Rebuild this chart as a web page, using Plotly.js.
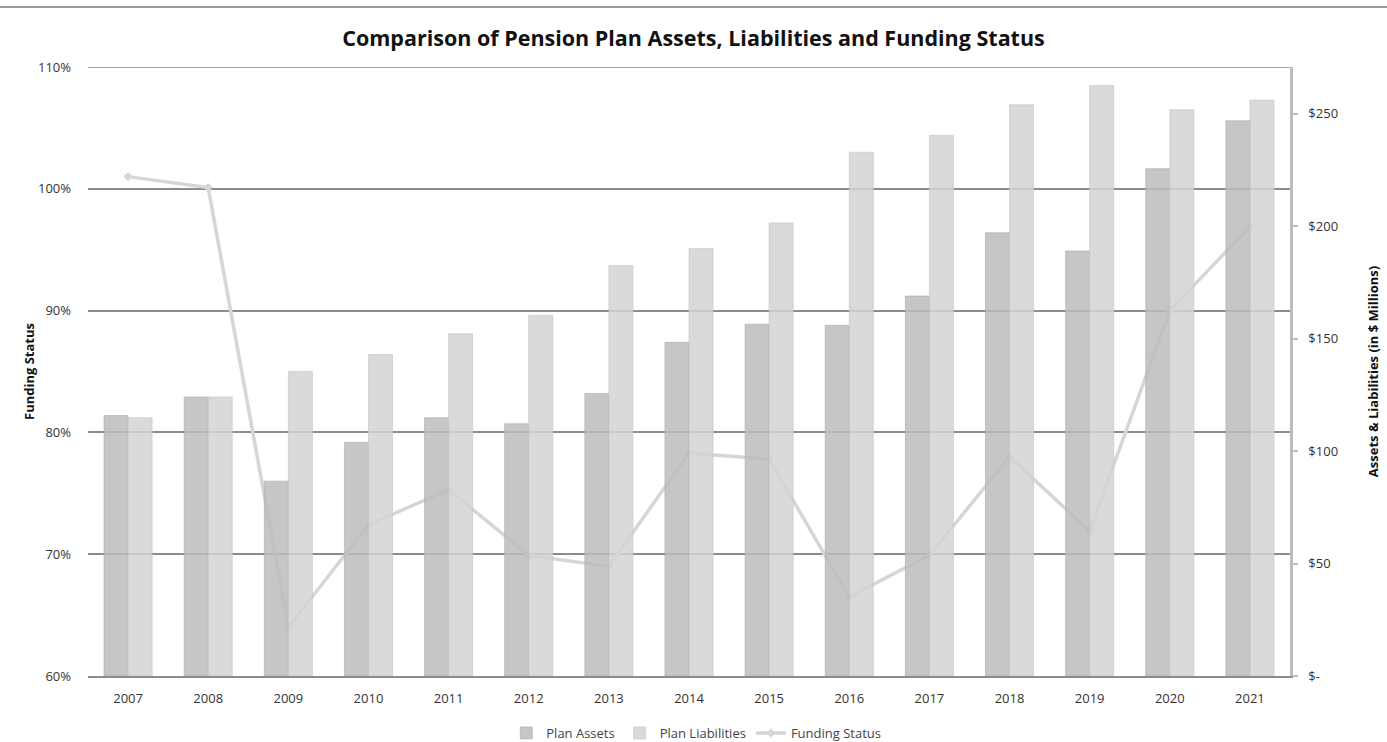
<!DOCTYPE html>
<html>
<head>
<meta charset="utf-8">
<script src="https://cdn.plot.ly/plotly-3.0.1.min.js"></script>
<style>
  html, body { margin: 0; padding: 0; background: #ffffff; }
  #chart { width: 1387px; height: 742px; }
</style>
</head>
<body>
<div id="chart"></div>
<script>
const years = ['2007','2008','2009','2010','2011','2012','2013','2014','2015','2016','2017','2018','2019','2020','2021'];
const planAssets = [115.8, 124.0, 86.6, 103.9, 114.8, 112.1, 125.6, 148.3, 156.4, 155.9, 168.9, 197.0, 188.9, 225.5, 246.8];
const planLiabilities = [114.8, 124.0, 135.3, 142.9, 152.1, 160.2, 182.4, 190.0, 201.4, 232.8, 240.3, 253.9, 262.5, 251.7, 256.0];
const fundingStatus = [101.0, 100.1, 64.0, 72.4, 75.3, 69.9, 69.0, 78.3, 77.8, 66.5, 69.9, 78.0, 71.9, 90.0, 96.9];

const pctTicks = [60, 70, 80, 90, 100, 110];
const pctLabels = ['60%', '70%', '80%', '90%', '100%', '110%'];
const dollarTicks = [0, 50, 100, 150, 200, 250];
const dollarLabels = ['$-', '$50', '$100', '$150', '$200', '$250'];

const FONT = '"Open Sans", "Noto Sans", sans-serif';

const traces = [
  {
    type: 'bar', name: 'Plan Assets', x: years, y: planAssets, yaxis: 'y2',
    marker: { color: 'rgba(188,188,188,0.85)', line: { color: 'rgba(170,170,170,0.6)', width: 1 } },
    hoverinfo: 'x+y'
  },
  {
    type: 'bar', name: 'Plan Liabilities', x: years, y: planLiabilities, yaxis: 'y2',
    marker: { color: 'rgba(211,211,211,0.85)', line: { color: 'rgba(195,195,195,0.6)', width: 1 } },
    hoverinfo: 'x+y'
  },
  {
    type: 'scatter', mode: 'lines+markers', name: 'Funding Status', x: years, y: fundingStatus, yaxis: 'y',
    line: { color: '#d6d6d6', width: 3.5 },
    marker: { color: '#d6d6d6', symbol: 'diamond', size: 7 },
    hoverinfo: 'x+y'
  }
];

const layout = {
  width: 1387, height: 742,
  paper_bgcolor: '#ffffff', plot_bgcolor: '#ffffff',
  margin: { l: 88, r: 97, t: 67, b: 66, pad: 0 },
  font: { family: FONT, color: '#333333', size: 12 },
  title: {
    text: '<b>Comparison of Pension Plan Assets, Liabilities and Funding Status</b>',
    font: { family: FONT, size: 21.5, color: '#111111' },
    xref: 'container', x: 0.5, xanchor: 'center',
    yref: 'container', y: 1 - 38 / 742, yanchor: 'middle'
  },
  barmode: 'group', bargap: 0.4, bargroupgap: 0,
  showlegend: true,
  legend: {
    orientation: 'h', xref: 'container', x: 0.502, xanchor: 'center',
    yref: 'container', y: 1 - 733 / 742, yanchor: 'middle',
    font: { family: FONT, size: 13, color: '#444444' },
    traceorder: 'normal', itemwidth: 30
  },
  xaxis: {
    type: 'category', range: [-0.5, 14.5], autorange: false,
    showgrid: false, zeroline: false,
    showline: true, linecolor: '#8c8c8c', linewidth: 1.5,
    ticks: '', ticklabelstandoff: 10,
    tickfont: { family: FONT, size: 13, color: '#333333' }
  },
  yaxis: {
    range: [60, 110], autorange: false, tickmode: 'array', tickvals: pctTicks, ticktext: pctLabels,
    showgrid: true, gridcolor: '#8c8c8c', gridwidth: 1.5, zeroline: false,
    showline: false, ticks: '', ticklabelstandoff: 16,
    tickfont: { family: FONT, size: 13, color: '#333333' },
    title: { text: '<b>Funding Status</b>', font: { family: FONT, size: 13, color: '#111111' }, standoff: 0 }
  },
  yaxis2: {
    overlaying: 'y', side: 'right', range: [0, 270.7], autorange: false,
    tickmode: 'array', tickvals: dollarTicks, ticktext: dollarLabels,
    showgrid: false, zeroline: false,
    showline: true, linecolor: '#bdbdbd', linewidth: 2.5,
    ticks: 'outside', ticklen: 5, tickcolor: '#bdbdbd', tickwidth: 1.5,
    ticklabelstandoff: 8,
    tickfont: { family: FONT, size: 13, color: '#333333' },
    title: { text: '<b>Assets & Liabilities (in $ Millions)</b>', font: { family: FONT, size: 13, color: '#111111' }, standoff: 32 }
  },
  shapes: [
    {
      type: 'line', xref: 'paper', yref: 'paper',
      x0: -88 / 1202, x1: (1387 - 88) / 1202,
      y0: (676 - 7) / 609, y1: (676 - 7) / 609,
      line: { color: '#9a9a9a', width: 2 }
    },
    {
      type: 'line', xref: 'paper', yref: 'y', layer: 'below',
      x0: 0, x1: 1, y0: 110, y1: 110,
      line: { color: '#8c8c8c', width: 1.5 }
    }
  ]
};

Plotly.newPlot('chart', traces, layout, { displayModeBar: false, responsive: false });
</script>
</body>
</html>
